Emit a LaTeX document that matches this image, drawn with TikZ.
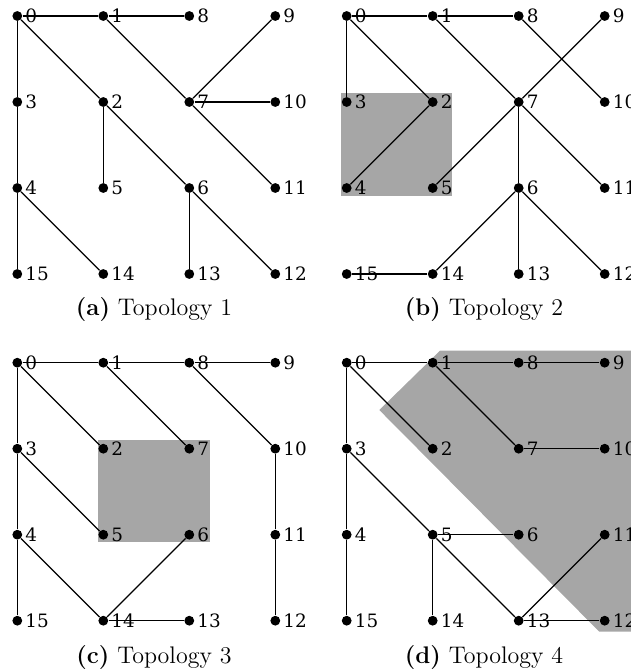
\documentclass[tikz,border=0pt]{standalone}
\usepackage{fontspec}
\newfontfamily\lblfont{DejaVu Serif}
\tikzset{
  dot/.style={circle, fill=black, inner sep=0pt, minimum size=4.9pt,
    label={[lbl, label distance=1.2pt]right:#1}},
  lbl/.style={inner sep=0pt, font=\lblfont\fontsize{9.2}{11}\selectfont},
  edge/.style={line width=0.6pt, black},
  shade/.style={fill=black!35, draw=none},
  captext/.style={anchor=base, inner sep=0pt, font=\fontsize{12}{14}\selectfont}
}
\newcommand{\mkgrid}[1]{%
  \foreach \n/\c/\r in {0/0/0,1/1/0,8/2/0,9/3/0,3/0/1,2/1/1,7/2/1,10/3/1,4/0/2,5/1/2,6/2/2,11/3/2,15/0/3,14/1/3,13/2/3,12/3/3}
    \node[dot=\n] (#1\n) at (\c*86,\r*86) {};}
\begin{document}
\begin{tikzpicture}[x=0.5pt,y=-0.5pt]
\useasboundingbox (0,0) rectangle (631,671);
% shaded regions
\fill[shade] (341,92.7) rectangle (452,196);
\fill[shade] (97.7,440) rectangle (210,541.7);
\fill[shade] (440,350.7) -- (650,350.7) -- (650,631.7) -- (599.3,631.7) -- (379.3,410) -- cycle;
% (a)
\begin{scope}[shift={(17.3,16)}]
  \mkgrid{a}
  \foreach \u/\v in {0/1,1/8,0/3,3/4,4/15,0/2,2/6,6/12,1/7,7/11,7/9,7/10,2/5,6/13,4/14}
    \draw[edge] (a\u) -- (a\v);
\end{scope}
% (b)
\begin{scope}[shift={(346.7,16)}]
  \mkgrid{b}
  \foreach \u/\v in {0/1,1/8,0/3,0/2,2/4,1/7,7/11,8/10,9/7,7/5,7/6,6/13,6/14,6/12,14/15}
    \draw[edge] (b\u) -- (b\v);
\end{scope}
% (c)
\begin{scope}[shift={(17.3,362.7)}]
  \mkgrid{c}
  \foreach \u/\v in {0/1,1/8,8/9,0/3,3/4,4/15,0/2,1/7,8/10,10/11,11/12,3/5,4/14,14/6,14/13}
    \draw[edge] (c\u) -- (c\v);
\end{scope}
% (d)
\begin{scope}[shift={(346.7,362.7)}]
  \mkgrid{d}
  \foreach \u/\v in {0/1,1/8,8/9,0/3,3/4,4/15,0/2,1/7,7/10,3/5,5/13,5/6,5/14,13/11,13/12}
    \draw[edge] (d\u) -- (d\v);
\end{scope}
% captions
\node[captext] (capa) at (154,315) {\textbf{(a)} Topology 1};
\node[captext] (capb) at (484,315) {\textbf{(b)} Topology 2};
\node[captext] (capc) at (154,663) {\textbf{(c)} Topology 3};
\node[captext] (capd) at (484,663) {\textbf{(d)} Topology 4};
\end{tikzpicture}
\end{document}
